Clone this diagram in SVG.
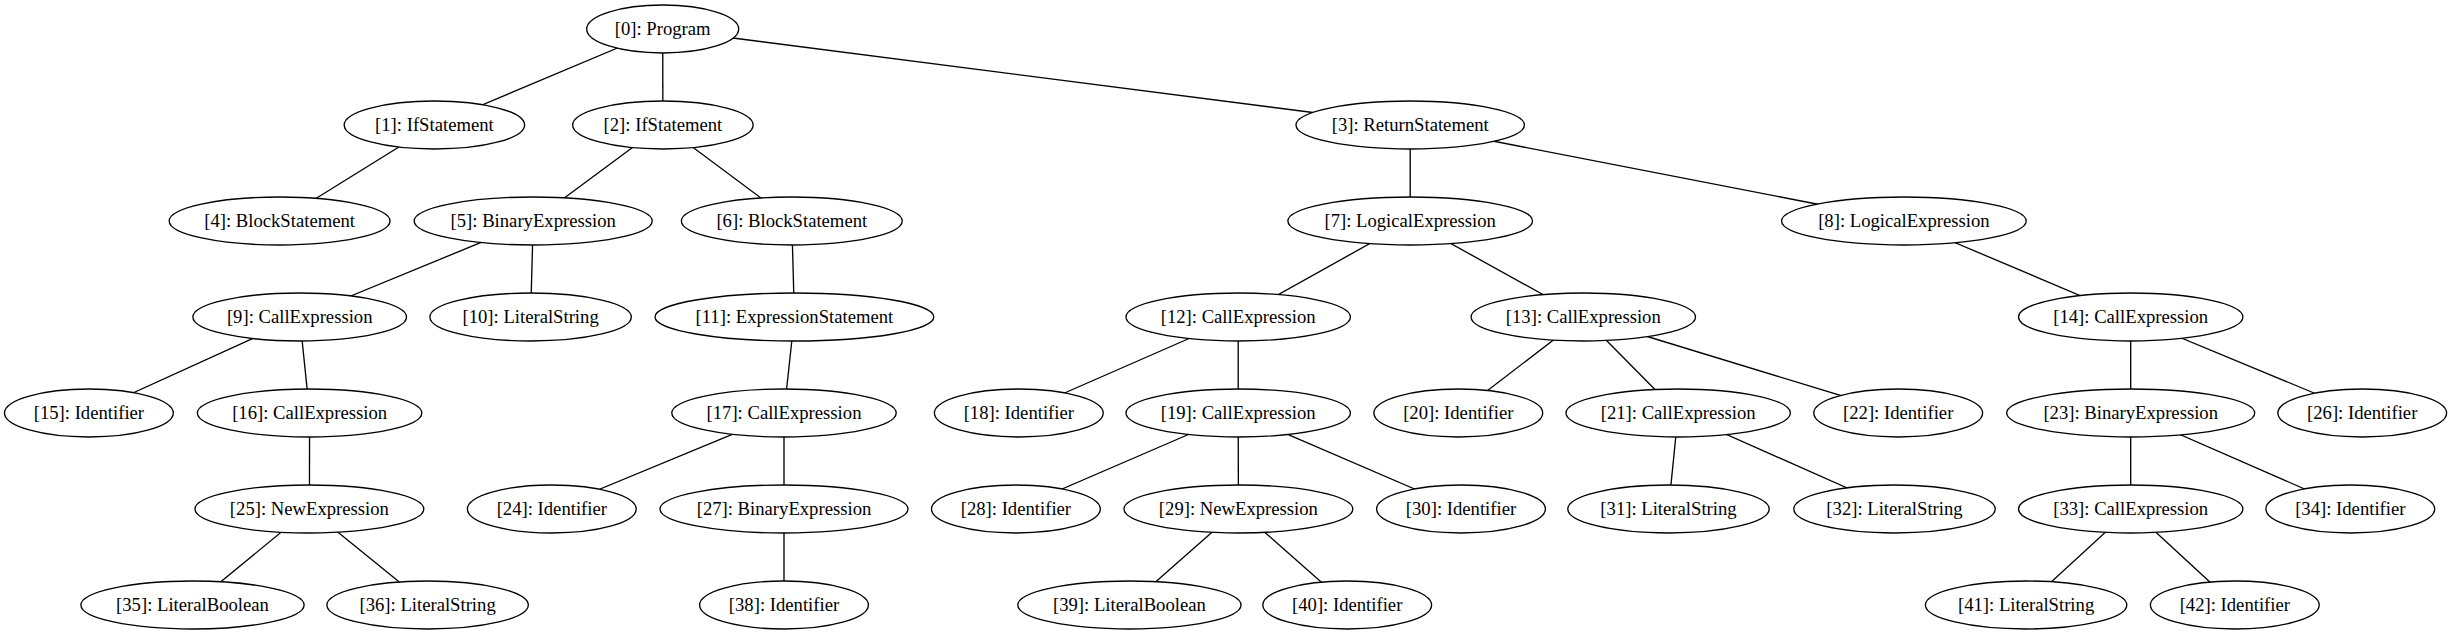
<svg xmlns="http://www.w3.org/2000/svg" width="2452" height="635" viewBox="0 0 2452 635">
<style>
.n ellipse{fill:#fff;stroke:#000;stroke-width:1.33}
.n text{font-family:"Liberation Serif","Times New Roman",serif;font-size:18.67px;text-anchor:middle;fill:#000}
#edges line{stroke:#000;stroke-width:1.33}
</style>
<rect width="2452" height="635" fill="#fff"/>
<g id="edges">
<line x1="662.7" y1="29" x2="434.4" y2="125"/>
<line x1="662.7" y1="29" x2="662.9" y2="125"/>
<line x1="662.7" y1="29" x2="1410.2" y2="125"/>
<line x1="434.4" y1="125" x2="279.6" y2="221"/>
<line x1="662.9" y1="125" x2="533.2" y2="221"/>
<line x1="662.9" y1="125" x2="791.8" y2="221"/>
<line x1="1410.2" y1="125" x2="1410.2" y2="221"/>
<line x1="1410.2" y1="125" x2="1903.9" y2="221"/>
<line x1="533.2" y1="221" x2="299.7" y2="317"/>
<line x1="533.2" y1="221" x2="530.6" y2="317"/>
<line x1="791.8" y1="221" x2="794.4" y2="317"/>
<line x1="1410.2" y1="221" x2="1238.2" y2="317"/>
<line x1="1410.2" y1="221" x2="1583.3" y2="317"/>
<line x1="1903.9" y1="221" x2="2130.7" y2="317"/>
<line x1="299.7" y1="317" x2="88.9" y2="413"/>
<line x1="299.7" y1="317" x2="309.6" y2="413"/>
<line x1="794.4" y1="317" x2="784" y2="413"/>
<line x1="1238.2" y1="317" x2="1018.8" y2="413"/>
<line x1="1238.2" y1="317" x2="1238.2" y2="413"/>
<line x1="1583.3" y1="317" x2="1458.3" y2="413"/>
<line x1="1583.3" y1="317" x2="1678.2" y2="413"/>
<line x1="1583.3" y1="317" x2="1898.2" y2="413"/>
<line x1="2130.7" y1="317" x2="2130.7" y2="413"/>
<line x1="2130.7" y1="317" x2="2362.2" y2="413"/>
<line x1="309.6" y1="413" x2="309.4" y2="509"/>
<line x1="784" y1="413" x2="551.8" y2="509"/>
<line x1="784" y1="413" x2="784" y2="509"/>
<line x1="1238.2" y1="413" x2="1015.9" y2="509"/>
<line x1="1238.2" y1="413" x2="1238.4" y2="509"/>
<line x1="1238.2" y1="413" x2="1461" y2="509"/>
<line x1="1678.2" y1="413" x2="1668.5" y2="509"/>
<line x1="1678.2" y1="413" x2="1894.5" y2="509"/>
<line x1="2130.7" y1="413" x2="2130.7" y2="509"/>
<line x1="2130.7" y1="413" x2="2350.3" y2="509"/>
<line x1="309.4" y1="509" x2="192.5" y2="605"/>
<line x1="309.4" y1="509" x2="427.6" y2="605"/>
<line x1="784" y1="509" x2="784" y2="605"/>
<line x1="1238.4" y1="509" x2="1129.4" y2="605"/>
<line x1="1238.4" y1="509" x2="1347.2" y2="605"/>
<line x1="2130.7" y1="509" x2="2026.1" y2="605"/>
<line x1="2130.7" y1="509" x2="2234.8" y2="605"/>
</g>
<g id="n0" class="n"><ellipse cx="662.7" cy="29" rx="76" ry="24"/><text x="662.7" y="35">[0]: Program</text></g>
<g id="n1" class="n"><ellipse cx="434.4" cy="125" rx="90.2" ry="24"/><text x="434.4" y="131">[1]: IfStatement</text></g>
<g id="n2" class="n"><ellipse cx="662.9" cy="125" rx="90.2" ry="24"/><text x="662.9" y="131">[2]: IfStatement</text></g>
<g id="n3" class="n"><ellipse cx="1410.2" cy="125" rx="114.2" ry="24"/><text x="1410.2" y="131">[3]: ReturnStatement</text></g>
<g id="n4" class="n"><ellipse cx="279.6" cy="221" rx="110.4" ry="24"/><text x="279.6" y="227">[4]: BlockStatement</text></g>
<g id="n5" class="n"><ellipse cx="533.2" cy="221" rx="119" ry="24"/><text x="533.2" y="227">[5]: BinaryExpression</text></g>
<g id="n6" class="n"><ellipse cx="791.8" cy="221" rx="110.4" ry="24"/><text x="791.8" y="227">[6]: BlockStatement</text></g>
<g id="n7" class="n"><ellipse cx="1410.2" cy="221" rx="122.3" ry="24"/><text x="1410.2" y="227">[7]: LogicalExpression</text></g>
<g id="n8" class="n"><ellipse cx="1903.9" cy="221" rx="122.3" ry="24"/><text x="1903.9" y="227">[8]: LogicalExpression</text></g>
<g id="n9" class="n"><ellipse cx="299.7" cy="317" rx="106.8" ry="24"/><text x="299.7" y="323">[9]: CallExpression</text></g>
<g id="n10" class="n"><ellipse cx="530.6" cy="317" rx="100.7" ry="24"/><text x="530.6" y="323">[10]: LiteralString</text></g>
<g id="n11" class="n"><ellipse cx="794.4" cy="317" rx="139.4" ry="24"/><text x="794.4" y="323">[11]: ExpressionStatement</text></g>
<g id="n12" class="n"><ellipse cx="1238.2" cy="317" rx="112.2" ry="24"/><text x="1238.2" y="323">[12]: CallExpression</text></g>
<g id="n13" class="n"><ellipse cx="1583.3" cy="317" rx="112.2" ry="24"/><text x="1583.3" y="323">[13]: CallExpression</text></g>
<g id="n14" class="n"><ellipse cx="2130.7" cy="317" rx="112.2" ry="24"/><text x="2130.7" y="323">[14]: CallExpression</text></g>
<g id="n15" class="n"><ellipse cx="88.9" cy="413" rx="84.4" ry="24"/><text x="88.9" y="419">[15]: Identifier</text></g>
<g id="n16" class="n"><ellipse cx="309.6" cy="413" rx="112.2" ry="24"/><text x="309.6" y="419">[16]: CallExpression</text></g>
<g id="n17" class="n"><ellipse cx="784" cy="413" rx="112.2" ry="24"/><text x="784" y="419">[17]: CallExpression</text></g>
<g id="n18" class="n"><ellipse cx="1018.8" cy="413" rx="84.4" ry="24"/><text x="1018.8" y="419">[18]: Identifier</text></g>
<g id="n19" class="n"><ellipse cx="1238.2" cy="413" rx="112.2" ry="24"/><text x="1238.2" y="419">[19]: CallExpression</text></g>
<g id="n20" class="n"><ellipse cx="1458.3" cy="413" rx="84.4" ry="24"/><text x="1458.3" y="419">[20]: Identifier</text></g>
<g id="n21" class="n"><ellipse cx="1678.2" cy="413" rx="112.2" ry="24"/><text x="1678.2" y="419">[21]: CallExpression</text></g>
<g id="n22" class="n"><ellipse cx="1898.2" cy="413" rx="84.4" ry="24"/><text x="1898.2" y="419">[22]: Identifier</text></g>
<g id="n23" class="n"><ellipse cx="2130.7" cy="413" rx="124" ry="24"/><text x="2130.7" y="419">[23]: BinaryExpression</text></g>
<g id="n26" class="n"><ellipse cx="2362.2" cy="413" rx="84.4" ry="24"/><text x="2362.2" y="419">[26]: Identifier</text></g>
<g id="n24" class="n"><ellipse cx="551.8" cy="509" rx="84.4" ry="24"/><text x="551.8" y="515">[24]: Identifier</text></g>
<g id="n25" class="n"><ellipse cx="309.4" cy="509" rx="114.4" ry="24"/><text x="309.4" y="515">[25]: NewExpression</text></g>
<g id="n27" class="n"><ellipse cx="784" cy="509" rx="124" ry="24"/><text x="784" y="515">[27]: BinaryExpression</text></g>
<g id="n28" class="n"><ellipse cx="1015.9" cy="509" rx="84.4" ry="24"/><text x="1015.9" y="515">[28]: Identifier</text></g>
<g id="n29" class="n"><ellipse cx="1238.4" cy="509" rx="114.4" ry="24"/><text x="1238.4" y="515">[29]: NewExpression</text></g>
<g id="n30" class="n"><ellipse cx="1461" cy="509" rx="84.4" ry="24"/><text x="1461" y="515">[30]: Identifier</text></g>
<g id="n31" class="n"><ellipse cx="1668.5" cy="509" rx="100.7" ry="24"/><text x="1668.5" y="515">[31]: LiteralString</text></g>
<g id="n32" class="n"><ellipse cx="1894.5" cy="509" rx="100.7" ry="24"/><text x="1894.5" y="515">[32]: LiteralString</text></g>
<g id="n33" class="n"><ellipse cx="2130.7" cy="509" rx="112.2" ry="24"/><text x="2130.7" y="515">[33]: CallExpression</text></g>
<g id="n34" class="n"><ellipse cx="2350.3" cy="509" rx="84.4" ry="24"/><text x="2350.3" y="515">[34]: Identifier</text></g>
<g id="n35" class="n"><ellipse cx="192.5" cy="605" rx="111.6" ry="24"/><text x="192.5" y="611">[35]: LiteralBoolean</text></g>
<g id="n36" class="n"><ellipse cx="427.6" cy="605" rx="100.7" ry="24"/><text x="427.6" y="611">[36]: LiteralString</text></g>
<g id="n38" class="n"><ellipse cx="784" cy="605" rx="84.4" ry="24"/><text x="784" y="611">[38]: Identifier</text></g>
<g id="n39" class="n"><ellipse cx="1129.4" cy="605" rx="111.6" ry="24"/><text x="1129.4" y="611">[39]: LiteralBoolean</text></g>
<g id="n40" class="n"><ellipse cx="1347.2" cy="605" rx="84.4" ry="24"/><text x="1347.2" y="611">[40]: Identifier</text></g>
<g id="n41" class="n"><ellipse cx="2026.1" cy="605" rx="100.7" ry="24"/><text x="2026.1" y="611">[41]: LiteralString</text></g>
<g id="n42" class="n"><ellipse cx="2234.8" cy="605" rx="84.4" ry="24"/><text x="2234.8" y="611">[42]: Identifier</text></g>
</svg>
